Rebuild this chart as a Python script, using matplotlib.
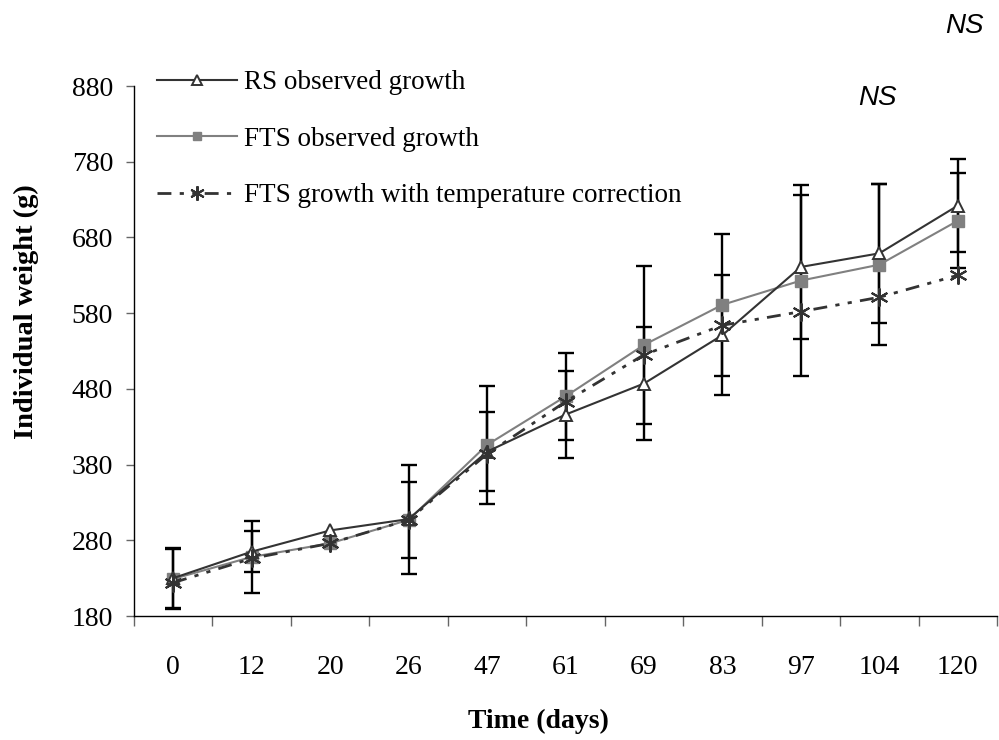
import numpy as np
import matplotlib
matplotlib.use("Agg")
from matplotlib import pyplot as plt

days = ["0", "12", "20", "26", "47", "61", "69", "83", "97", "104", "120"]

rs_mean = [230, 265, 293, 308, 397, 446, 487, 551, 641, 659, 722]
rs_err = [40, 27.5, np.nan, 72, 52, 57, 75, 79, 95, 92, 61]

fts_mean = [229, 258, 276, 307, 406, 470, 538, 591, 623, 644, 702]
fts_err = [40, 47, np.nan, 50, 78, 57, 104, 94, 126, 106, 63]

fts_corr = [224, 256, 276, 307, 394, 463, 525, 564, 582, 601, 630]

labels = ["RS observed growth", "FTS observed growth",
          "FTS growth with temperature correction"]
yticks = [180, 280, 380, 480, 580, 680, 780, 880]

plt.rcParams['font.family'] = ['Liberation Serif', 'DejaVu Serif']

W, H = 999, 740
fig = plt.figure(figsize=(W / 100, H / 100), dpi=100)
ax = fig.add_axes([134 / W, 1 - 616 / H, (997 - 134) / W, (616 - 86) / H])

x = np.arange(len(days))

# error bars first, lines and markers on top
for m, e in [(rs_mean, rs_err), (fts_mean, fts_err)]:
    ax.errorbar(x, m, yerr=e, fmt='none', ecolor='black', elinewidth=1.7,
                capsize=5.5, capthick=1.7, zorder=2)

ax.plot(x, rs_mean, color='#333333', lw=1.5, marker='^', ms=9,
        mfc='white', mec='#333333', mew=1.4, zorder=4, label=labels[0])
ax.plot(x, fts_mean, color='#808080', lw=1.5, marker='s', ms=8,
        mfc='#808080', mec='#808080', zorder=3, label=labels[1])
ax.plot(x, fts_corr, color='#333333', lw=2, dashes=(5, 3, 1.5, 3, 1.5, 3),
        marker=(6, 2, 0), ms=13, mew=1.5, mec='#333333', zorder=5,
        label=labels[2])

ax.set_xlim(-0.5, len(days) - 0.5)
ax.set_ylim(180, 880)
ax.set_xticks(x)
ax.set_xticklabels(days)
ax.set_xticks(np.arange(-0.5, len(days)), minor=True)
ax.set_yticks(yticks)
ax.tick_params(axis='x', which='major', length=0, pad=28, labelsize=20)
ax.tick_params(axis='x', which='minor', length=7, width=1, color='#666666',
               direction='out')
ax.tick_params(axis='y', length=6, width=1, color='#666666', direction='out',
               pad=9, labelsize=20)

for s in ['top', 'right']:
    ax.spines[s].set_visible(False)
for s in ['left', 'bottom']:
    ax.spines[s].set_color('black')
    ax.spines[s].set_linewidth(1)

fig.text(538 / W, 1 - 721 / H, "Time (days)", ha='center', va='center',
         fontsize=20, fontweight='bold')
fig.text(26 / W, 1 - 312 / H, "Individual weight (g)", ha='center',
         va='center', rotation=90, fontsize=20.5, fontweight='bold')

fig.text(964 / W, 1 - 26 / H, "NS", ha='center', va='center', fontsize=20,
         style='italic', family=['Liberation Sans', 'DejaVu Sans'])
fig.text(877 / W, 1 - 98 / H, "NS", ha='center', va='center', fontsize=20,
         style='italic', family=['Liberation Sans', 'DejaVu Sans'])

ax.legend(loc='upper left', bbox_to_anchor=(157 / W, 1 - 70 / H),
          bbox_transform=fig.transFigure, frameon=False, fontsize=19.5,
          handlelength=2.95, handletextpad=0.25, labelspacing=1.17,
          borderpad=0, borderaxespad=0, markerscale=0.8)

fig.savefig("out.png", dpi=100)
